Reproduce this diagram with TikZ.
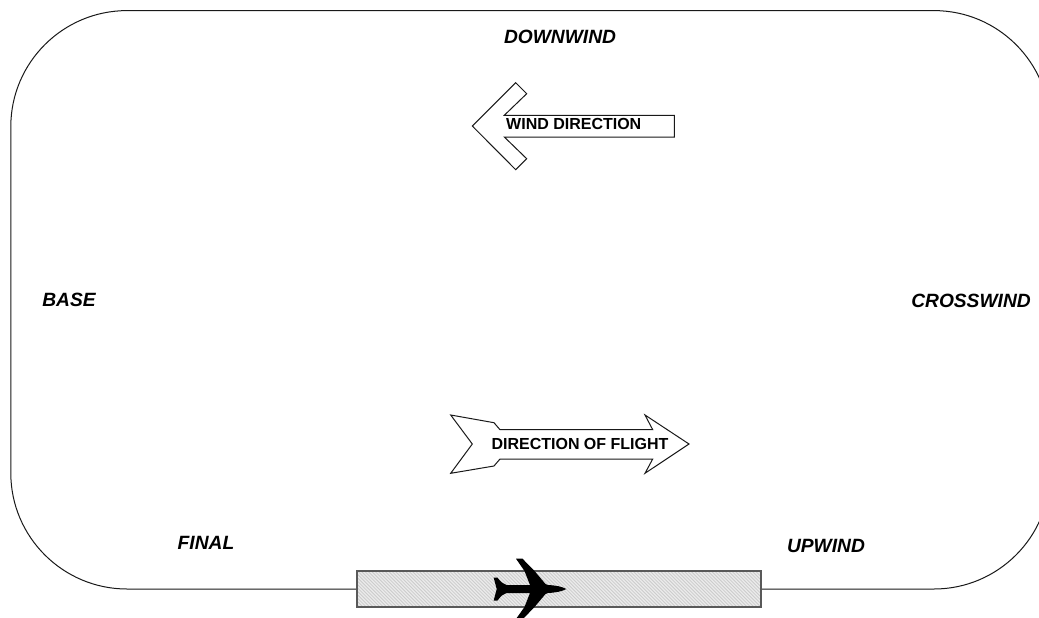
\documentclass[tikz,border=0pt]{standalone}
\usepackage{fontspec}
\setmainfont{Liberation Sans}
\tikzset{
  outline/.style={draw=black!90,line width=1pt,line join=miter},
  pattern label/.style={font=\bfseries\itshape\fontsize{19.2}{21}\selectfont,inner sep=0pt,text=black},
  arrow label/.style={font=\bfseries\fontsize{16}{18}\selectfont,inner sep=0pt,text=black},
  bigarrow/.style={draw=black!90,line width=1pt,fill=white,line join=miter},
  runway edge/.style={draw=black!65,line width=1.2pt},
  hatch/.style={draw=black!20,line width=0.8pt},
  plane/.style={fill=black,draw=none}
}
\begin{document}
\begin{tikzpicture}[x=1pt,y=-1pt]
\clip (0,0) rectangle (1039,618);
\fill[white] (0,0) rectangle (1039,618);
% circuit
\draw[outline] (127,10.6) -- (934,10.6) .. controls (998,10.6) and (1050,62.6) .. (1050,126.6) -- (1050,473)
  .. controls (1050,537) and (998,589) .. (934,589)
  -- (127,589) .. controls (63,589) and (10.8,537) .. (10.8,473) -- (10.8,126.6)
  .. controls (10.8,62.6) and (63,10.6) .. (127,10.6) -- cycle;
% runway
\fill[black!8] (357,571) rectangle (761,607);
\begin{scope}
\clip (357,571) rectangle (761,607);
\foreach \hx in {310,313.4,...,770} {\draw[hatch] (\hx,571) -- ++(36,36);}
\end{scope}
\draw[runway edge] (357,571) rectangle (761,607);
% aeroplane
\fill[plane] (566.3,589) .. controls (562,586.6) and (556,585.4) .. (548,585)
  -- (545.5,584) -- (534.5,571) -- (522.5,558.7) -- (516,558.7) -- (524.5,571) -- (530,585) -- (506.5,585)
  .. controls (503,584) and (501,582) .. (497.5,577.7) -- (493.7,577.7)
  -- (496.7,589) -- (493.7,600.5) -- (497.5,600.5)
  .. controls (501,596) and (503,594) .. (506.5,593) -- (530,593)
  -- (524.5,607) -- (516,619) -- (523,619) -- (534.5,607) -- (545.5,594) -- (548,593)
  .. controls (556,592.6) and (562,591.4) .. (566.3,589) -- cycle;
% arrows
\draw[bigarrow] (450.7,415) -- (494,422.7) -- (500,429.7) -- (652.7,429.7) -- (645,415) -- (689,444)
  -- (645,473.3) -- (652.7,459) -- (500,459) -- (494,466) -- (450.7,473.3) -- (472.3,444) -- cycle;
\draw[bigarrow] (472.3,126) -- (515.7,82.7) -- (526.7,93.7) -- (504.3,115.3) -- (674.3,115.3)
  -- (674.3,137) -- (504.3,137) -- (526.7,158.7) -- (515.7,169.7) -- cycle;
% labels
\node[pattern label] (downwind) at (560,37) {DOWNWIND};
\node[pattern label] (base) at (69,300) {BASE};
\node[pattern label] (crosswind) at (971,301) {CROSSWIND};
\node[pattern label] (final) at (206,543) {FINAL};
\node[pattern label] (upwind) at (826,546) {UPWIND};
\node[arrow label,anchor=west] (wind) at (506,124) {WIND DIRECTION};
\node[arrow label] (flight) at (580,444) {DIRECTION OF FLIGHT};
\end{tikzpicture}
\end{document}
